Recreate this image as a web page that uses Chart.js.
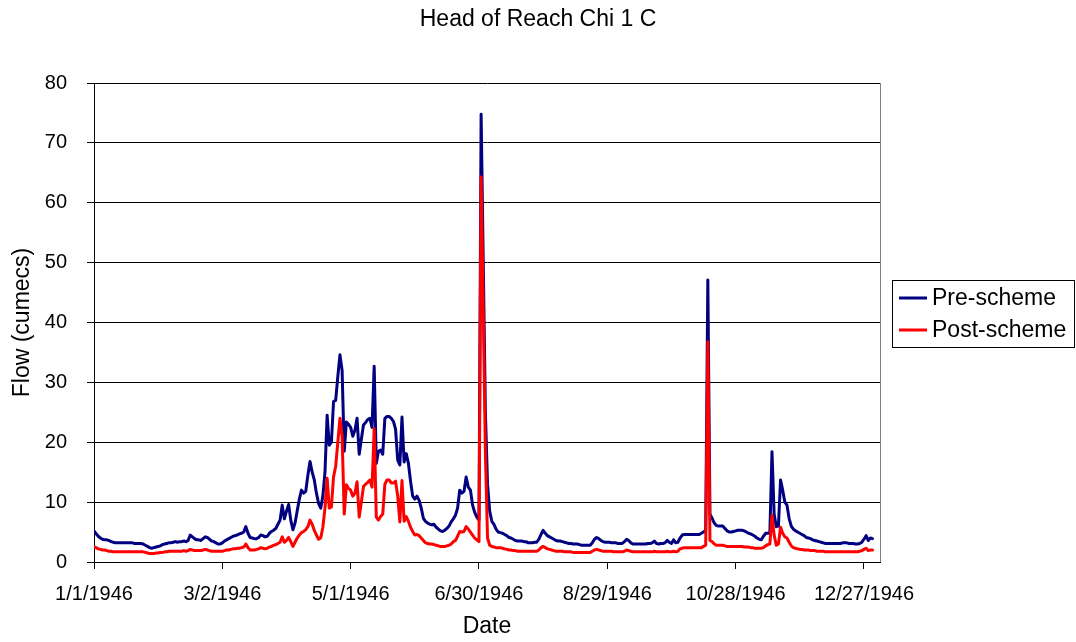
<!DOCTYPE html>
<html>
<head>
<meta charset="utf-8">
<title>Head of Reach Chi 1 C</title>
<script src="https://cdn.jsdelivr.net/npm/chart.js@4.4.1/dist/chart.umd.min.js"></script>
<style>
  html, body { margin: 0; padding: 0; background: #ffffff; }
  canvas { display: block; }
</style>
</head>
<body>
<canvas id="chart" width="1076" height="642"></canvas>
<script>
// Daily flows for 1946 (cumecs), one value per day from 1 January to 31 December.
const preScheme = [
  5.2, 4.7, 4.3, 4.0, 3.8, 3.7, 3.7, 3.6, 3.4, 3.3,
  3.2, 3.2, 3.2, 3.2, 3.2, 3.2, 3.2, 3.2, 3.2, 3.1,
  3.1, 3.1, 3.1, 3.0, 2.8, 2.6, 2.4, 2.3, 2.4, 2.5,
  2.6, 2.7, 2.9, 3.0, 3.1, 3.2, 3.2, 3.3, 3.4, 3.3,
  3.4, 3.4, 3.5, 3.4, 3.6, 4.5, 4.2, 3.9, 3.7, 3.7,
  3.6, 3.9, 4.2, 4.1, 3.8, 3.5, 3.4, 3.2, 3.0, 3.0,
  3.2, 3.5, 3.7, 3.9, 4.1, 4.3, 4.4, 4.5, 4.7, 4.8,
  5.0, 5.9, 4.8, 4.1, 4.0, 3.9, 3.9, 4.1, 4.5, 4.4,
  4.2, 4.3, 4.8, 5.1, 5.3, 5.6, 6.3, 7.0, 9.5, 7.2,
  8.5, 9.6, 7.0, 5.4, 6.5, 8.5, 10.5, 12.0, 11.5, 11.8,
  14.5, 16.8, 15.0, 13.7, 11.5, 9.8, 9.0, 11.0, 15.0, 24.5,
  19.5, 20.0, 26.8, 27.0, 31.0, 34.6, 32.0, 18.5, 23.4, 23.0,
  22.5, 21.0, 22.0, 24.0, 18.0, 20.5, 22.9, 23.3, 23.8, 24.0,
  22.5, 32.7, 16.5, 18.5, 18.7, 18.0, 24.0, 24.3, 24.3, 24.0,
  23.5, 22.2, 17.0, 16.2, 24.2, 16.7, 18.1, 16.5, 13.5, 11.0,
  10.5, 11.0, 10.3, 9.0, 7.3, 6.8, 6.5, 6.3, 6.2, 6.3,
  5.8, 5.5, 5.2, 5.1, 5.3, 5.6, 6.0, 6.7, 7.2, 7.8,
  9.0, 12.0, 11.5, 11.8, 14.2, 12.5, 12.0, 9.5, 8.3, 7.5,
  7.0, 74.8, 50.0, 25.0, 13.0, 8.5, 6.8, 6.3, 5.5, 5.0,
  4.9, 4.8, 4.6, 4.4, 4.1, 4.0, 3.8, 3.6, 3.5, 3.5,
  3.5, 3.4, 3.4, 3.2, 3.2, 3.2, 3.3, 3.3, 3.8, 4.6,
  5.3, 4.8, 4.4, 4.2, 4.0, 3.8, 3.6, 3.5, 3.5, 3.4,
  3.3, 3.2, 3.1, 3.1, 3.0, 3.0, 3.0, 2.9, 2.8, 2.8,
  2.8, 2.8, 2.8, 3.2, 3.8, 4.1, 3.9, 3.6, 3.4, 3.3,
  3.3, 3.3, 3.2, 3.2, 3.2, 3.1, 3.1, 3.1, 3.4, 3.8,
  3.6, 3.2, 3.0, 3.0, 3.0, 3.0, 3.0, 3.0, 3.0, 3.1,
  3.1, 3.2, 3.5, 3.1, 3.0, 3.1, 3.1, 3.2, 3.6, 3.3,
  3.1, 3.7, 3.2, 3.3, 4.0, 4.5, 4.6, 4.6, 4.6, 4.6,
  4.6, 4.6, 4.6, 4.6, 4.8, 5.0, 5.3, 47.1, 8.0, 7.3,
  6.5, 6.1, 6.0, 6.0, 6.0, 5.6, 5.2, 5.0, 5.0, 5.1,
  5.2, 5.3, 5.3, 5.3, 5.2, 5.0, 4.8, 4.7, 4.5, 4.3,
  4.0, 3.8, 3.7, 4.3, 4.8, 4.8, 4.8, 18.4, 8.0, 5.9,
  6.0, 13.7, 12.0, 10.0, 9.5, 7.3, 6.0, 5.5, 5.2, 5.0,
  4.8, 4.6, 4.4, 4.1, 4.0, 3.9, 3.7, 3.6, 3.5, 3.4,
  3.3, 3.2, 3.1, 3.1, 3.1, 3.1, 3.1, 3.1, 3.1, 3.1,
  3.2, 3.2, 3.2, 3.1, 3.1, 3.1, 3.0, 3.0, 3.1, 3.3,
  3.8, 4.4, 3.6, 4.0, 3.9
];

const postScheme = [
  2.5, 2.4, 2.2, 2.1, 2.0, 2.0, 1.9, 1.8, 1.8, 1.7,
  1.7, 1.7, 1.7, 1.7, 1.7, 1.7, 1.7, 1.7, 1.7, 1.7,
  1.7, 1.7, 1.7, 1.7, 1.6, 1.5, 1.4, 1.4, 1.4, 1.5,
  1.5, 1.6, 1.6, 1.7, 1.7, 1.8, 1.8, 1.8, 1.8, 1.8,
  1.8, 1.8, 1.9, 1.8, 1.9, 2.1, 2.0, 1.9, 1.9, 1.9,
  1.9, 2.0, 2.1, 2.0, 1.9, 1.8, 1.8, 1.8, 1.8, 1.8,
  1.8, 1.9, 2.0, 2.0, 2.1, 2.2, 2.2, 2.3, 2.3, 2.4,
  2.5, 3.0, 2.4, 2.0, 2.0, 2.0, 2.1, 2.2, 2.4, 2.3,
  2.2, 2.3, 2.5, 2.6, 2.8, 2.9, 3.1, 3.3, 4.2, 3.3,
  3.6, 4.1, 3.4, 2.6, 3.3, 4.0, 4.5, 4.9, 5.1, 5.4,
  5.9, 7.0, 6.3, 5.3, 4.5, 3.8, 4.0, 5.8, 9.0, 14.0,
  9.0, 9.2, 14.2, 16.0, 20.0, 24.0, 21.0, 8.0, 12.9, 12.3,
  12.0, 11.0, 11.5, 13.4, 7.5, 10.0, 12.6, 13.0, 13.3, 13.7,
  12.5, 22.3, 7.5, 7.0, 7.6, 8.0, 13.0, 13.7, 13.7, 13.2,
  13.2, 13.5, 11.0, 6.7, 13.6, 6.8, 7.6, 6.8, 5.8, 5.1,
  4.5, 4.6, 4.4, 4.0, 3.6, 3.2, 3.1, 3.0, 3.0, 2.9,
  2.8, 2.7, 2.6, 2.6, 2.6, 2.7, 2.8, 3.0, 3.4, 3.6,
  4.3, 5.1, 5.0, 5.1, 5.9, 5.5, 5.0, 4.5, 4.0, 3.7,
  3.4, 64.3, 42.0, 18.0, 4.0, 2.8, 2.6, 2.5, 2.4, 2.4,
  2.4, 2.3, 2.2, 2.1, 2.0, 2.0, 1.9, 1.9, 1.8, 1.8,
  1.8, 1.8, 1.8, 1.8, 1.8, 1.8, 1.8, 1.8, 2.0, 2.4,
  2.6, 2.4, 2.2, 2.1, 2.0, 1.9, 1.8, 1.8, 1.8, 1.8,
  1.7, 1.7, 1.7, 1.7, 1.6, 1.6, 1.6, 1.6, 1.6, 1.6,
  1.6, 1.6, 1.6, 1.8, 2.0, 2.1, 2.0, 1.9, 1.8, 1.8,
  1.8, 1.8, 1.8, 1.7, 1.7, 1.7, 1.7, 1.7, 1.8, 2.0,
  1.9, 1.8, 1.7, 1.7, 1.7, 1.7, 1.7, 1.7, 1.7, 1.7,
  1.7, 1.7, 1.8, 1.7, 1.7, 1.7, 1.7, 1.7, 1.8, 1.7,
  1.7, 1.8, 1.7, 1.8, 2.2, 2.3, 2.4, 2.4, 2.4, 2.4,
  2.4, 2.4, 2.4, 2.4, 2.4, 2.6, 2.8, 36.8, 3.6, 3.4,
  3.0, 2.8, 2.8, 2.8, 2.8, 2.7, 2.6, 2.6, 2.6, 2.6,
  2.6, 2.6, 2.6, 2.6, 2.5, 2.5, 2.5, 2.4, 2.4, 2.3,
  2.3, 2.3, 2.3, 2.4, 2.7, 2.9, 3.0, 7.8, 4.5, 2.8,
  3.0, 5.8, 4.8, 4.2, 4.0, 3.3, 2.7, 2.4, 2.3, 2.2,
  2.1, 2.1, 2.0, 2.0, 2.0, 1.9, 1.9, 1.9, 1.8, 1.8,
  1.8, 1.8, 1.7, 1.7, 1.7, 1.7, 1.7, 1.7, 1.7, 1.7,
  1.7, 1.7, 1.7, 1.7, 1.7, 1.7, 1.7, 1.7, 1.8, 1.9,
  2.1, 2.3, 1.9, 2.0, 2.0
];

// Date axis: day-of-year positions of the labelled ticks and their text.
const tickDays = [0, 60, 120, 180, 240, 300, 360];
const tickLabels = ['1/1/1946', '3/2/1946', '5/1/1946', '6/30/1946', '8/29/1946', '10/28/1946', '12/27/1946'];
const flowTicks = [0, 10, 20, 30, 40, 50, 60, 70, 80];

const seriesNames = ['Pre-scheme', 'Post-scheme'];
const seriesColors = ['#000080', '#ff0000'];
const chartTitle = 'Head of Reach Chi 1 C';

const FONT = "'Liberation Sans', Arial, Helvetica, sans-serif";
Chart.defaults.font.family = FONT;
Chart.defaults.color = '#000000';

const toPoints = (arr) => arr.map((v, i) => ({ x: i, y: v }));

// Title, boxed legend and the right-hand frame of the plot area.
const decorations = {
  id: 'decorations',
  afterDraw(chart) {
    const { ctx, chartArea } = chart;
    ctx.save();

    // plot frame, right edge
    ctx.strokeStyle = '#808080';
    ctx.lineWidth = 1;
    ctx.beginPath();
    ctx.moveTo(Math.round(chartArea.right) + 0.5, chartArea.top);
    ctx.lineTo(Math.round(chartArea.right) + 0.5, chartArea.bottom);
    ctx.stroke();

    // title
    ctx.fillStyle = '#000000';
    ctx.font = '23px ' + FONT;
    ctx.textAlign = 'center';
    ctx.textBaseline = 'middle';
    ctx.fillText(chartTitle, chart.width / 2, 20);

    // legend
    const box = { x: 892.5, y: 280.5, w: 182, h: 67 };
    ctx.fillStyle = '#ffffff';
    ctx.fillRect(box.x, box.y, box.w, box.h);
    ctx.strokeStyle = '#000000';
    ctx.strokeRect(box.x, box.y, box.w, box.h);
    const rows = [298, 330];
    ctx.font = '23px ' + FONT;
    ctx.textAlign = 'left';
    ctx.textBaseline = 'middle';
    seriesNames.forEach((name, i) => {
      ctx.strokeStyle = seriesColors[i];
      ctx.lineWidth = 3;
      ctx.beginPath();
      ctx.moveTo(899, rows[i]);
      ctx.lineTo(927, rows[i]);
      ctx.stroke();
      ctx.fillStyle = '#000000';
      ctx.fillText(name, 932, rows[i] + 1);
    });
    ctx.restore();
  }
};

new Chart(document.getElementById('chart'), {
  type: 'line',
  data: {
    datasets: [
      {
        label: seriesNames[1],
        data: toPoints(postScheme),
        borderColor: seriesColors[1],
        borderWidth: 3,
        pointRadius: 0,
        tension: 0,
        borderJoinStyle: 'round',
        borderCapStyle: 'round',
        order: 0
      },
      {
        label: seriesNames[0],
        data: toPoints(preScheme),
        borderColor: seriesColors[0],
        borderWidth: 3,
        pointRadius: 0,
        tension: 0,
        borderJoinStyle: 'round',
        borderCapStyle: 'round',
        order: 1
      }
    ]
  },
  options: {
    responsive: false,
    devicePixelRatio: 1,
    animation: false,
    layout: { padding: { top: 83, right: 196, bottom: 0, left: 0 } },
    plugins: {
      legend: { display: false },
      title: { display: false },
      tooltip: { enabled: false }
    },
    scales: {
      x: {
        type: 'linear',
        min: 0,
        max: 367.5,
        afterFit(scale) { scale.height = 80; },
        afterBuildTicks(scale) { scale.ticks = tickDays.map(v => ({ value: v })); },
        ticks: {
          autoSkip: false,
          maxRotation: 0,
          minRotation: 0,
          padding: 13,
          font: { size: 20 },
          color: '#000000',
          callback: (value, index) => tickLabels[index]
        },
        grid: { drawOnChartArea: false, drawTicks: true, tickLength: 7, color: '#000000' },
        border: { color: '#000000', width: 1 },
        title: { display: true, text: 'Date', font: { size: 23 }, color: '#000000', padding: { top: 0, bottom: 2 } }
      },
      y: {
        min: 0,
        max: 80,
        afterFit(scale) { scale.width = 94; },
        afterBuildTicks(scale) { scale.ticks = flowTicks.map(v => ({ value: v })); },
        ticks: { padding: 20, font: { size: 20 }, color: '#000000' },
        grid: { color: '#000000', tickLength: 7 },
        border: { color: '#000000', width: 1 },
        title: { display: true, text: 'Flow (cumecs)', font: { size: 23 }, color: '#000000', padding: { top: 9, bottom: 0 } }
      }
    }
  },
  plugins: [decorations]
});
</script>
</body>
</html>
